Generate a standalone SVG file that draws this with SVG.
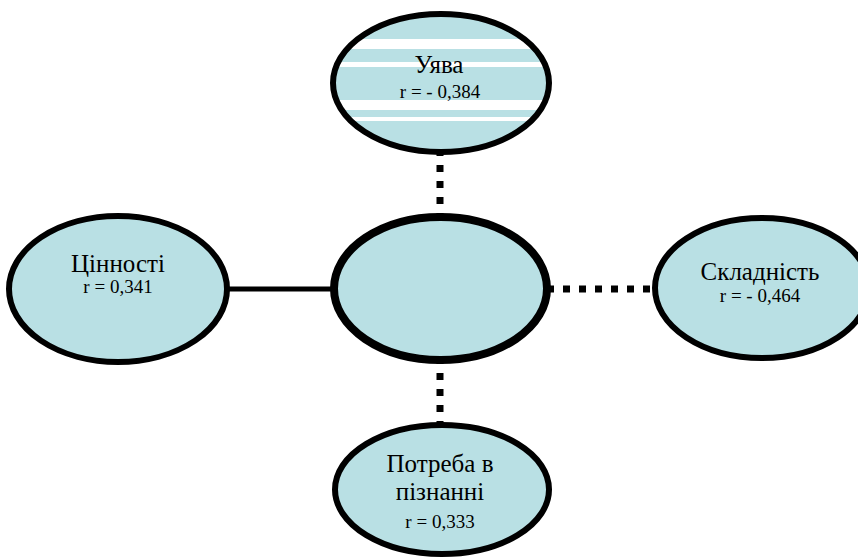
<svg xmlns="http://www.w3.org/2000/svg" width="858" height="559" viewBox="0 0 858 559">
<defs>
<clipPath id="clipTop"><ellipse cx="441" cy="83" rx="108" ry="69"/></clipPath>
</defs>
<style>
.node{fill:#b9e0e4;stroke:#000;stroke-width:6}
.center{fill:#b9e0e4;stroke:#000;stroke-width:8}
.dot{stroke:#000;stroke-width:7;stroke-dasharray:7 9;fill:none}
.solid{stroke:#000;stroke-width:5;fill:none}
.t1{font-family:"Liberation Serif","Times New Roman",serif;font-size:25px;fill:#000;text-anchor:middle}
.t2{font-family:"Liberation Serif","Times New Roman",serif;font-size:19px;fill:#000;text-anchor:middle}
</style>
<rect width="858" height="559" fill="#fff"/>
<g id="connectors">
<line class="dot" x1="440" y1="149" x2="440" y2="221"/>
<line class="dot" x1="440" y1="357" x2="440" y2="429"/>
<line class="dot" x1="547" y1="289" x2="660" y2="289"/>
<line class="solid" x1="226" y1="289" x2="334" y2="289"/>
</g>
<g id="node-uyava">
<ellipse cx="441" cy="83" rx="108" ry="69" fill="#b9e0e4"/>
<g clip-path="url(#clipTop)" fill="#fff">
<rect x="320" y="39" width="240" height="10"/>
<rect x="320" y="62" width="240" height="5"/>
<rect x="320" y="100" width="240" height="10"/>
<rect x="320" y="117" width="240" height="4"/>
</g>
<ellipse cx="441" cy="83" rx="108" ry="69" fill="none" stroke="#000" stroke-width="6"/>
<text class="t1" x="439" y="73">Уява</text>
<text class="t2" x="440" y="98">r = - 0,384</text>
</g>
<g id="node-center">
<ellipse class="center" cx="440.5" cy="288.5" rx="106.5" ry="71.5"/>
</g>
<g id="node-tsinnosti">
<ellipse class="node" cx="118" cy="289" rx="109" ry="73"/>
<text class="t1" x="118" y="272">Цінності</text>
<text class="t2" x="118" y="293">r = 0,341</text>
</g>
<g id="node-skladnist">
<ellipse class="node" cx="762" cy="288" rx="107" ry="70"/>
<text class="t1" x="760" y="280">Складність</text>
<text class="t2" x="760" y="302">r = - 0,464</text>
</g>
<g id="node-potreba">
<ellipse class="node" cx="442" cy="489.5" rx="107" ry="64.5"/>
<text class="t1" x="440" y="472">Потреба в</text>
<text class="t1" x="440" y="500">пізнанні</text>
<text class="t2" x="440" y="528">r = 0,333</text>
</g>
</svg>
